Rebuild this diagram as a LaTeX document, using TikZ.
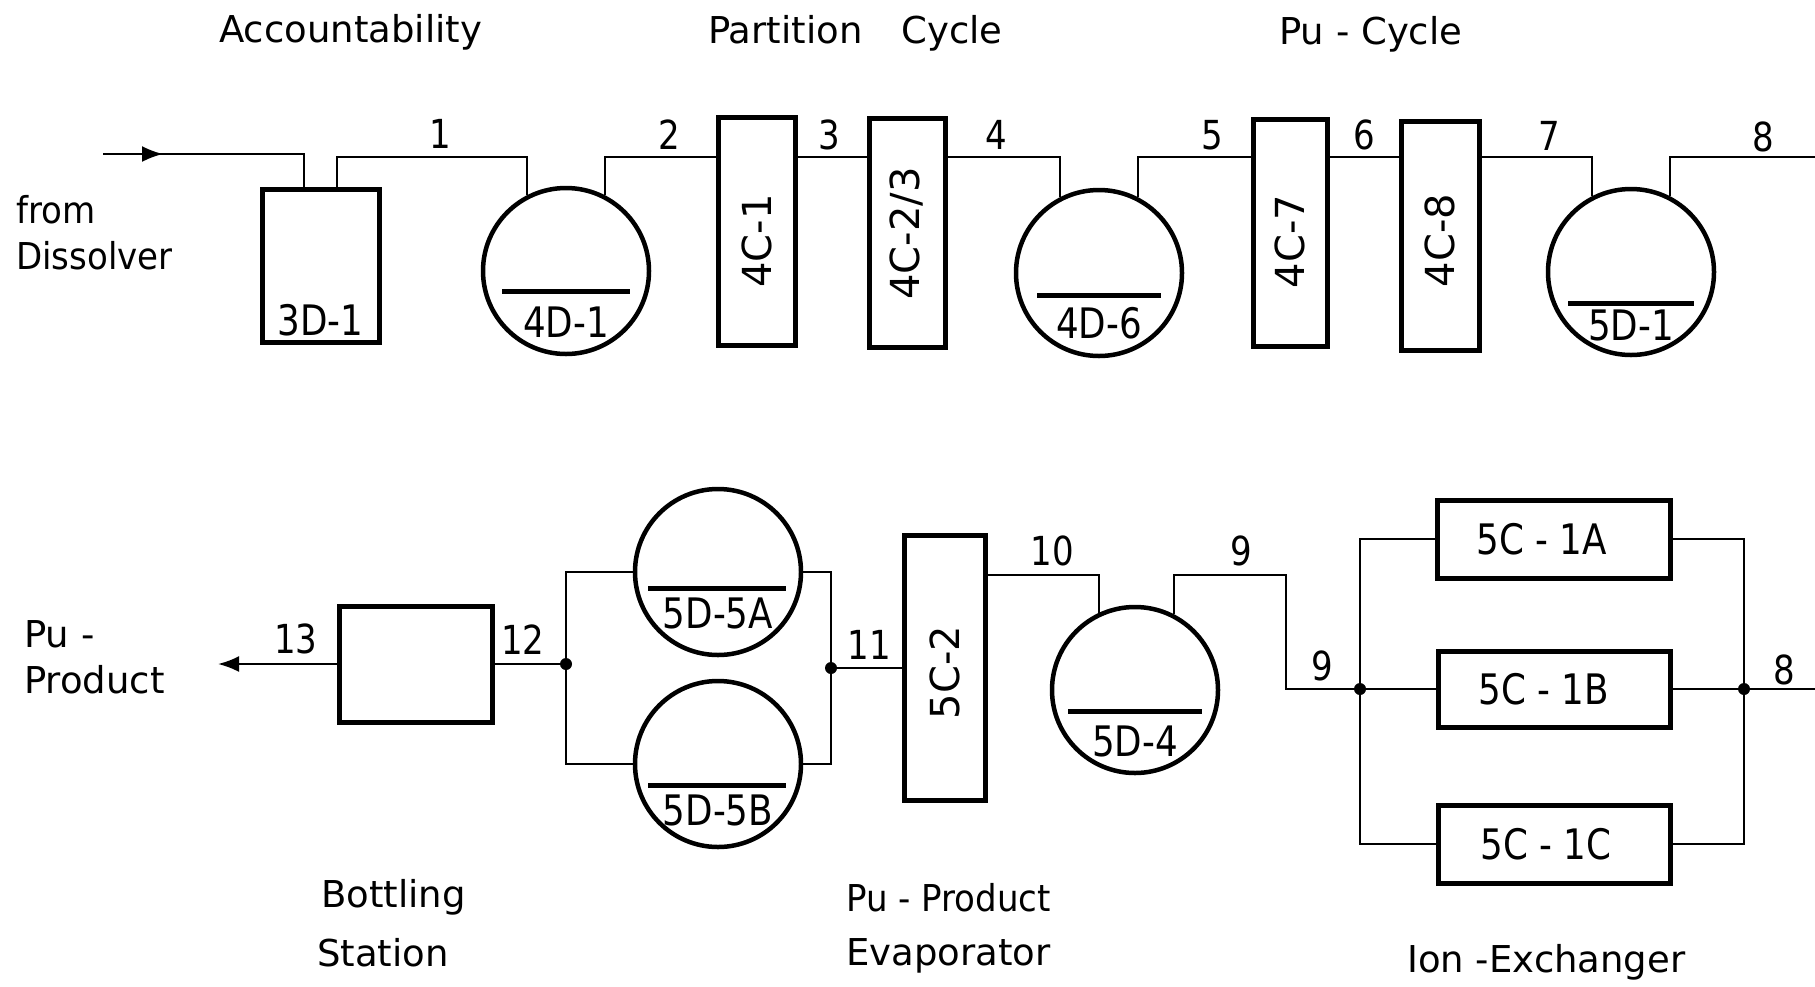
\documentclass[tikz,border=0pt]{standalone}
\usepackage{fontspec}
\setmainfont{DejaVu Sans}
\newfontfamily\narrowfont[FakeStretch=0.85]{DejaVu Sans}
\newfontfamily\semifont[FakeStretch=0.92]{DejaVu Sans}
\usetikzlibrary{arrows.meta,calc}
\begin{document}
\begin{tikzpicture}[x=1pt,y=-1pt,
  unit/.style={draw, line width=5pt, inner sep=0pt, rectangle},
  drum/.style={draw, line width=4.5pt, circle, inner sep=0pt, minimum size=166pt},
  pipe/.style={line width=2.3pt},
  bar/.style={line width=5pt},
  title/.style={font=\fontsize{37}{44}\selectfont, inner sep=0pt, anchor=base west},
  num/.style={font=\narrowfont\fontsize{40}{46}\selectfont, inner sep=0pt},
  tag/.style={font=\narrowfont\fontsize{42}{48}\selectfont, inner sep=0pt},
  vtag/.style={font=\fontsize{40}{48}\selectfont, inner sep=0pt, rotate=90},
  dot/.style={circle, fill, inner sep=0pt, minimum size=12pt},
  arr/.style={-{Latex[length=21pt,width=16pt]}}
]
\useasboundingbox (0,0) rectangle (1815,986);

% ---------- titles ----------
\node[title] (tAcc) at (219,42) {Accountability};
\node[title] (tPart) at (708,43) {Partition\hspace{39pt}Cycle};
\node[title] (tPu) at (1279,44) {Pu - Cycle};
\node[title,font=\semifont\fontsize{37}{44}\selectfont] (tFrom) at (16,223) {from};
\node[title,font=\semifont\fontsize{37}{44}\selectfont] (tDiss) at (16,269) {Dissolver};
\node[title] (tPu1) at (24,647) {Pu -};
\node[title] (tProd) at (24,693) {Product};
\node[title] (tBot) at (321,907) {Bottling};
\node[title] (tSta) at (317,966) {Station};
\node[title,font=\semifont\fontsize{37}{44}\selectfont] (tPP) at (846,911) {Pu - Product};
\node[title] (tEva) at (846,965) {Evaporator};
\node[title] (tIon) at (1407,972) {Ion -Exchanger};

% ---------- top row ----------
\node[unit, minimum width=117pt, minimum height=153pt] (D31) at (320.5,265.5) {};
\node[drum] (D41) at (566,271) {};
\node[unit, minimum width=77pt, minimum height=228pt] (C41) at (756.5,231) {};
\node[unit, minimum width=76pt, minimum height=229pt] (C423) at (907,232.5) {};
\node[drum] (D46) at (1099,273) {};
\node[unit, minimum width=74pt, minimum height=227pt] (C47) at (1290,232.5) {};
\node[unit, minimum width=78pt, minimum height=229pt] (C48) at (1440,235.5) {};
\node[drum] (D51) at (1631,272) {};

\node[tag] (lD31) at ([yshift=24pt]D31.south) {3D-1};
\node[tag] (lD41) at ([yshift=-51pt]D41.center) {4D-1};
\node[tag] (lD46) at ([yshift=-50pt]D46.center) {4D-6};
\node[tag] (lD51) at ([yshift=-53pt]D51.center) {5D-1};
\node[vtag] (lC41) at ([yshift=-10pt]C41.center) {4C-1};
\node[vtag] (lC423) at ([yshift=-1pt]C423.center) {4C-2/3};
\node[vtag] (lC47) at ([yshift=-9pt]C47.center) {4C-7};
\node[vtag] (lC48) at ([yshift=-5pt]C48.center) {4C-8};

\draw[bar] ([xshift=-64pt,yshift=-20pt]D41.center) -- ([xshift=64pt,yshift=-20pt]D41.center);
\draw[bar] ([xshift=-62pt,yshift=-22pt]D46.center) -- ([xshift=62pt,yshift=-22pt]D46.center);
\draw[bar] ([xshift=-63pt,yshift=-31pt]D51.center) -- ([xshift=63pt,yshift=-31pt]D51.center);

\coordinate (top) at (0,157);
\coordinate (in) at (103,154);
\coordinate (outR) at (1815,157);
\coordinate (D31i) at ([xshift=-16.5pt]D31.north);
\coordinate (D31o) at ([xshift=16.5pt]D31.north);

\draw[pipe] (in) -| (D31i);
\draw[pipe,arr] (in) -- ++(60,0);
\draw[pipe] (D31o) |- (D41.117 |- top) -- (D41.117);
\draw[pipe] (D41.63) |- (C41.west |- top);
\draw[pipe] (C41.east |- top) -- (C423.west |- top);
\draw[pipe] (C423.east |- top) -| (D46.117);
\draw[pipe] (D46.63) |- (C47.west |- top);
\draw[pipe] (C47.east |- top) -- (C48.west |- top);
\draw[pipe] (C48.east |- top) -| (D51.117);
\draw[pipe] (D51.63) |- (outR);

\node[num] (n1) at (440,134) {1};
\node[num] (n2) at (669,135) {2};
\node[num] (n3) at (829,135) {3};
\node[num] (n4) at (996,135) {4};
\node[num] (n5) at (1212,135) {5};
\node[num] (n6) at (1364,135) {6};
\node[num] (n7) at (1549,136) {7};
\node[num] (n8) at (1763,137) {8};

% ---------- bottom row ----------
\node[unit, minimum width=153pt, minimum height=116pt] (BS) at (415.5,664) {};
\node[drum] (D55A) at (718,572) {};
\node[drum] (D55B) at (718,764) {};
\node[dot] (J12) at (566,664) {};
\node[dot] (J11) at (831,668) {};
\node[unit, minimum width=81pt, minimum height=265pt] (C52) at (944.5,667.5) {};
\node[drum] (D54) at (1135,690) {};
\node[dot] (J9) at (1360,689) {};
\node[unit, minimum width=233pt, minimum height=78pt] (C51A) at (1553.5,539) {};
\node[unit, minimum width=232pt, minimum height=76pt] (C51B) at (1554,689) {};
\node[unit, minimum width=232pt, minimum height=78pt] (C51C) at (1554,844) {};
\node[dot] (J8) at (1744,689) {};

\node[tag] (lD55A) at ([yshift=-41pt]D55A.center) {5D-5A};
\node[tag] (lD55B) at ([yshift=-46pt]D55B.center) {5D-5B};
\node[tag] (lD54) at ([yshift=-51pt]D54.center) {5D-4};
\node[vtag] (lC52) at ([yshift=-5pt]C52.center) {5C-2};
\node[tag] (lC51A) at ([xshift=-12pt]C51A.center) {5C - 1A};
\node[tag] (lC51B) at ([xshift=-10pt]C51B.center) {5C - 1B};
\node[tag] (lC51C) at ([xshift=-8pt]C51C.center) {5C - 1C};

\draw[bar] ([xshift=-70pt,yshift=-16pt]D55A.center) -- ([xshift=68pt,yshift=-16pt]D55A.center);
\draw[bar] ([xshift=-70pt,yshift=-21pt]D55B.center) -- ([xshift=68pt,yshift=-21pt]D55B.center);
\draw[bar] ([xshift=-67pt,yshift=-21pt]D54.center) -- ([xshift=67pt,yshift=-21pt]D54.center);

\coordinate (out) at (218,664);
\coordinate (low) at (0,575);
\coordinate (bend) at (1286,575);
\coordinate (outB) at (1815,689);

\draw[pipe,arr] (BS.west) -- (out);
\draw[pipe] (BS.east) -- (J12.center);
\draw[pipe] (D55A.west) -| (J12.center) |- (D55B.west);
\draw[pipe] (D55A.east) -| (J11.center) |- (D55B.east);
\draw[pipe] (J11.center) -- (C52.west |- J11);
\draw[pipe] (C52.east |- low) -| (D54.115);
\draw[pipe] (D54.63) |- (bend) |- (J9.center);
\draw[pipe] (C51A.west) -| (J9.center) |- (C51C.west);
\draw[pipe] (J9.center) -- (C51B.west);
\draw[pipe] (C51A.east) -| (J8.center) |- (C51C.east);
\draw[pipe] (C51B.east) -- (J8.center) -- (outB);

\node[num] (n13) at (296,639) {13};
\node[num] (n12) at (523,640) {12};
\node[num] (n11) at (869,645) {11};
\node[num] (n10) at (1052,551) {10};
\node[num] (n9a) at (1241,551) {9};
\node[num] (n9b) at (1322,666) {9};
\node[num] (n8b) at (1784,670) {8};
\end{tikzpicture}
\end{document}
